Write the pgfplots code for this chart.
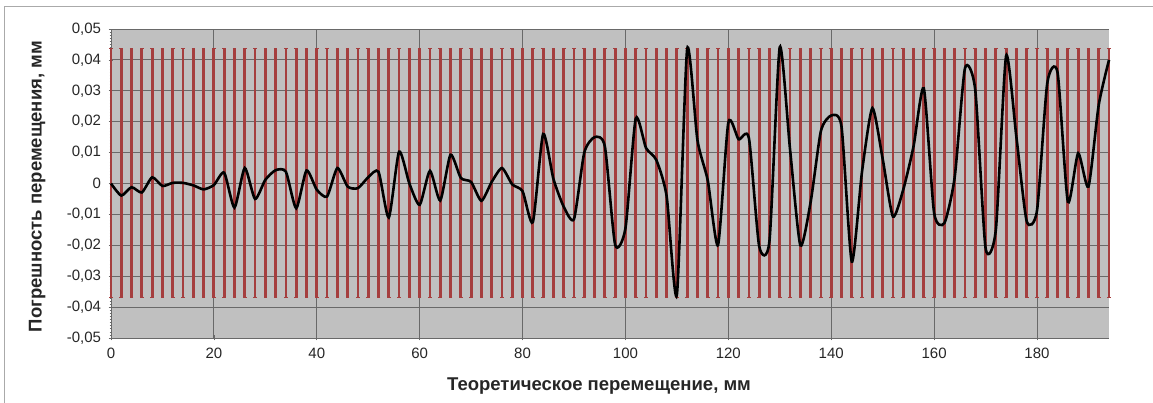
\documentclass[border=0pt]{standalone}
\usepackage{pgfplots}
\pgfplotsset{compat=1.18}
\usepackage{fontspec}
\setmainfont{Liberation Sans}
\definecolor{bgray}{RGB}{192,192,192}
\definecolor{ggray}{RGB}{105,105,105}
\definecolor{barred}{RGB}{165,62,62}
\definecolor{frame}{RGB}{170,170,170}
\begin{document}
\begin{tikzpicture}[x=1pt,y=1pt]
\useasboundingbox (-111,-65) rectangle (1042,338);
\draw[frame, line width=1pt] (-106,-65) -- (-106,331) -- (1042,331);
\begin{axis}[
  at={(0,0)}, anchor=south west,
  scale only axis, width=998pt, height=309pt,
  xmin=0, xmax=194, ymin=-0.05, ymax=0.05,
  axis background/.style={fill=bgray},
  axis x line*=bottom, axis y line*=left,
  axis line style={ggray, line width=0.8pt, -},
  xtick={0,20,...,180},
  ytick={-0.05,-0.04,...,0.05},
  scaled y ticks=false,
  yticklabels={{-0,05},{-0,04},{-0,03},{-0,02},{-0,01},{0},{0,01},{0,02},{0,03},{0,04},{0,05}},
  minor y tick num=9,
  grid=major,
  major grid style={ggray, line width=0.8pt},
  tick style={ggray, line width=0.6pt},
  major tick length=5pt, minor tick length=3pt,
  tick align=center,
  ticklabel style={font=\fontsize{15}{18}\selectfont, text=black!85},
  yticklabel style={xshift=-4pt},
  xticklabel style={yshift=-4pt},
  /pgf/number format/assume math mode=true,
  xlabel={Теоретическое перемещение, мм},
  ylabel={Погрешность перемещения, мм},
  label style={font=\bfseries\fontsize{18.5}{21}\selectfont, text=black!85},
  xlabel style={at={(axis description cs:0.489,-0.155)}, anchor=center},
  ylabel style={at={(axis description cs:-0.074,0.49)}, anchor=center},
  clip=false,
]
\addplot[draw=none, mark=none, forget plot,
  error bars/.cd, y dir=both, y fixed=0.0403,
  error bar style={barred, line width=2.8pt},
  error mark options={barred, line width=1pt, mark size=1.8pt, rotate=90}]
coordinates {
(0,0.0035)(2,0.0035)(4,0.0035)(6,0.0035)(8,0.0035)(10,0.0035)(12,0.0035)(14,0.0035)(16,0.0035)(18,0.0035)
(20,0.0035)(22,0.0035)(24,0.0035)(26,0.0035)(28,0.0035)(30,0.0035)(32,0.0035)(34,0.0035)(36,0.0035)(38,0.0035)
(40,0.0035)(42,0.0035)(44,0.0035)(46,0.0035)(48,0.0035)(50,0.0035)(52,0.0035)(54,0.0035)(56,0.0035)(58,0.0035)
(60,0.0035)(62,0.0035)(64,0.0035)(66,0.0035)(68,0.0035)(70,0.0035)(72,0.0035)(74,0.0035)(76,0.0035)(78,0.0035)
(80,0.0035)(82,0.0035)(84,0.0035)(86,0.0035)(88,0.0035)(90,0.0035)(92,0.0035)(94,0.0035)(96,0.0035)(98,0.0035)
(100,0.0035)(102,0.0035)(104,0.0035)(106,0.0035)(108,0.0035)(110,0.0035)(112,0.0035)(114,0.0035)(116,0.0035)(118,0.0035)
(120,0.0035)(122,0.0035)(124,0.0035)(126,0.0035)(128,0.0035)(130,0.0035)(132,0.0035)(134,0.0035)(136,0.0035)(138,0.0035)
(140,0.0035)(142,0.0035)(144,0.0035)(146,0.0035)(148,0.0035)(150,0.0035)(152,0.0035)(154,0.0035)(156,0.0035)(158,0.0035)
(160,0.0035)(162,0.0035)(164,0.0035)(166,0.0035)(168,0.0035)(170,0.0035)(172,0.0035)(174,0.0035)(176,0.0035)(178,0.0035)
(180,0.0035)(182,0.0035)(184,0.0035)(186,0.0035)(188,0.0035)(190,0.0035)(192,0.0035)(194,0.0035)
};
\addplot[black, line width=2.6pt, smooth, tension=0.38, mark=none] coordinates {
(0,0)(2,-0.0039)(4,-0.0012)(6,-0.0029)(8,0.002)(10,-0.0008)(12,0.0002)(14,0.0002)(16,-0.0006)(18,-0.0019)
(20,-0.0005)(22,0.0035)(24,-0.0078)(26,0.005)(28,-0.005)(30,0.0012)(32,0.0043)(34,0.0038)(36,-0.008)(38,0.0042)
(40,-0.002)(42,-0.0042)(44,0.005)(46,-0.001)(48,-0.0015)(50,0.002)(52,0.0038)(54,-0.011)(56,0.0103)(58,0.0)
(60,-0.0069)(62,0.0041)(64,-0.0055)(66,0.0093)(68,0.0018)(70,0.0005)(72,-0.0056)(74,0.0005)(76,0.005)(78,-0.0003)
(80,-0.0025)(82,-0.0125)(84,0.016)(86,0.0015)(88,-0.0075)(90,-0.0115)(92,0.010)(94,0.015)(96,0.012)(98,-0.0198)
(100,-0.0145)(102,0.021)(104,0.0115)(106,0.0076)(108,-0.004)(110,-0.036)(112,0.0435)(114,0.014)(116,0.001)(118,-0.0199)
(120,0.0197)(122,0.0143)(124,0.0147)(126,-0.0203)(128,-0.0185)(130,0.0441)(132,0.011)(134,-0.02)(136,-0.006)(138,0.017)
(140,0.022)(142,0.0184)(144,-0.0253)(146,0.004)(148,0.0244)(150,0.008)(152,-0.0107)(154,-0.002)(156,0.012)(158,0.0308)
(160,-0.0095)(162,-0.0128)(164,0.002)(166,0.0373)(168,0.0303)(170,-0.0208)(172,-0.015)(174,0.0413)(176,0.015)(178,-0.0122)
(180,-0.0088)(182,0.0325)(184,0.0359)(186,-0.0059)(188,0.0098)(190,-0.001)(192,0.0254)(194,0.04)
};
\end{axis}
\end{tikzpicture}
\end{document}
